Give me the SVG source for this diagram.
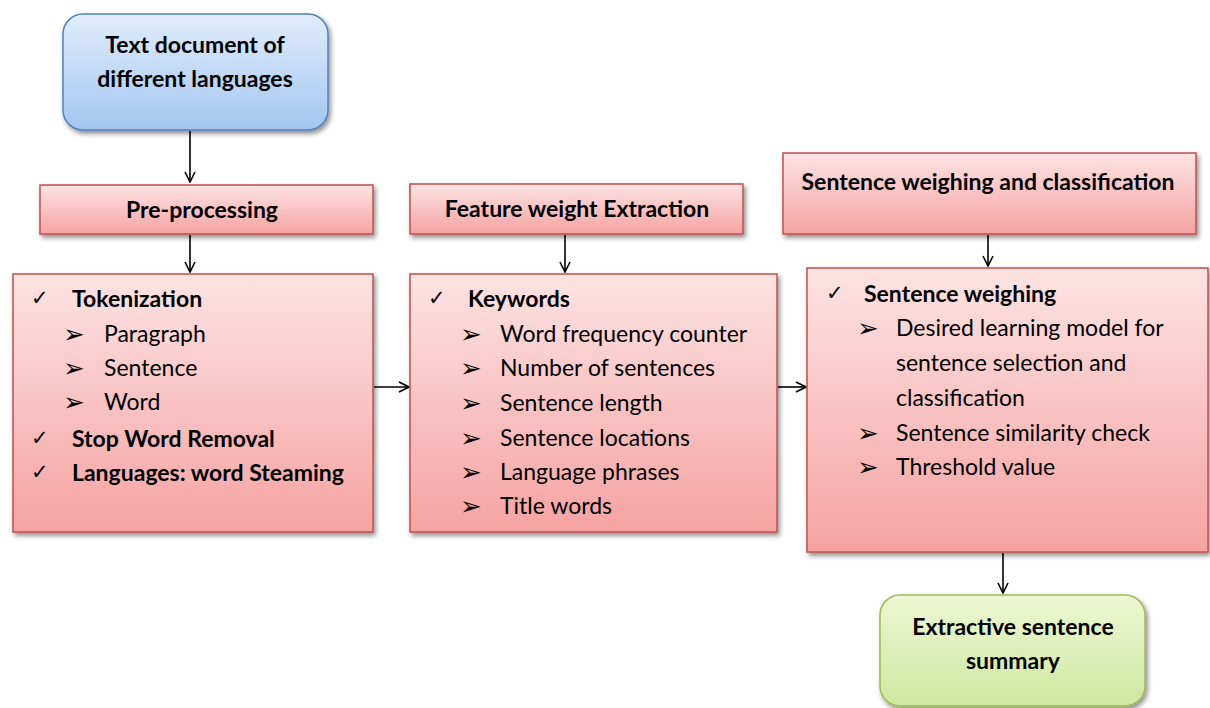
<svg xmlns="http://www.w3.org/2000/svg" width="1210" height="708" viewBox="0 0 1210 708">
  <defs>
    <linearGradient id="gPink" x1="0" y1="0" x2="0" y2="1">
      <stop offset="0" stop-color="#fde3e3"/>
      <stop offset="1" stop-color="#f5a3a2"/>
    </linearGradient>
    <linearGradient id="gBlue" x1="0" y1="0" x2="0" y2="1">
      <stop offset="0" stop-color="#e1edfc"/>
      <stop offset="1" stop-color="#a3c6f1"/>
    </linearGradient>
    <linearGradient id="gGreen" x1="0" y1="0" x2="0" y2="1">
      <stop offset="0" stop-color="#eef7d3"/>
      <stop offset="1" stop-color="#cde7a0"/>
    </linearGradient>
    <filter id="shadow" x="-10%" y="-10%" width="125%" height="130%">
      <feGaussianBlur in="SourceAlpha" stdDeviation="2.5"/>
      <feOffset dx="2" dy="3" result="b"/>
      <feComponentTransfer><feFuncA type="linear" slope="0.45"/></feComponentTransfer>
      <feMerge><feMergeNode/><feMergeNode in="SourceGraphic"/></feMerge>
    </filter>
    <marker id="arrow" viewBox="0 0 12 12" refX="11" refY="6" markerWidth="12" markerHeight="12" markerUnits="userSpaceOnUse" orient="auto">
      <path d="M1,1 L11,6 L1,11" fill="none" stroke="#000" stroke-width="1.6"/>
    </marker>
  </defs>
  <style>
    .pink { fill: url(#gPink); stroke: #c0504d; stroke-width: 1.5; filter: url(#shadow); }
    .blue { fill: url(#gBlue); stroke: #4f81bd; stroke-width: 1.5; filter: url(#shadow); }
    .green { fill: url(#gGreen); stroke: #9bbb59; stroke-width: 1.5; filter: url(#shadow); }
    text { font-family: Lato, "Liberation Sans", sans-serif; fill: #000; }
    .head { font-size: 23px; font-weight: bold; text-anchor: middle; }
    .bold { font-size: 23px; font-weight: bold; }
    .item { font-size: 23px; }
    .chk { font-family: "DejaVu Sans", sans-serif; font-size: 21px; }
    .arr { font-family: "DejaVu Sans", sans-serif; font-size: 26px; }
    .conn { stroke: #000; stroke-width: 1.6; fill: none; marker-end: url(#arrow); }
  </style>

  <!-- connectors -->
  <g id="connectors">
    <line class="conn" x1="190" y1="131" x2="190" y2="182"/>
    <line class="conn" x1="190" y1="235" x2="190" y2="272"/>
    <line class="conn" x1="565" y1="235" x2="565" y2="272"/>
    <line class="conn" x1="988" y1="235" x2="988" y2="266"/>
    <line class="conn" x1="374" y1="387" x2="409" y2="387"/>
    <line class="conn" x1="778" y1="387" x2="806" y2="387"/>
    <line class="conn" x1="1003" y1="553" x2="1003" y2="593"/>
  </g>

  <!-- source document -->
  <g id="source">
    <rect class="blue" x="63" y="14" width="265" height="116" rx="20"/>
    <text class="head" x="195" y="53">Text document of</text>
    <text class="head" x="195" y="87">different languages</text>
  </g>

  <!-- stage headers -->
  <g id="preprocessing-header">
    <rect class="pink" x="40" y="185" width="333" height="49"/>
    <text class="head" x="202" y="218">Pre-processing</text>
  </g>
  <g id="feature-header">
    <rect class="pink" x="410" y="184" width="333" height="50"/>
    <text class="head" x="577" y="217">Feature weight Extraction</text>
  </g>
  <g id="weighing-header">
    <rect class="pink" x="783" y="153" width="413" height="81"/>
    <text class="head" x="988" y="190">Sentence weighing and classification</text>
  </g>

  <!-- pre-processing details -->
  <g id="preprocessing">
    <rect class="pink" x="13" y="274" width="360" height="258"/>
    <text class="chk" x="31" y="305">✓</text>
    <text class="bold" x="72" y="307">Tokenization</text>
    <text class="arr" x="63" y="343">➢</text>
    <text class="item" x="104" y="342">Paragraph</text>
    <text class="arr" x="63" y="377">➢</text>
    <text class="item" x="104" y="376">Sentence</text>
    <text class="arr" x="63" y="411">➢</text>
    <text class="item" x="104" y="410">Word</text>
    <text class="chk" x="31" y="445">✓</text>
    <text class="bold" x="72" y="447">Stop Word Removal</text>
    <text class="chk" x="31" y="479">✓</text>
    <text class="bold" x="72" y="481">Languages: word Steaming</text>
  </g>

  <!-- feature extraction details -->
  <g id="features">
    <rect class="pink" x="410" y="274" width="367" height="258"/>
    <text class="chk" x="428" y="305">✓</text>
    <text class="bold" x="468" y="307">Keywords</text>
    <text class="arr" x="460" y="343">➢</text>
    <text class="item" x="500" y="342">Word frequency counter</text>
    <text class="arr" x="460" y="377">➢</text>
    <text class="item" x="500" y="376">Number of sentences</text>
    <text class="arr" x="460" y="412">➢</text>
    <text class="item" x="500" y="411">Sentence length</text>
    <text class="arr" x="460" y="447">➢</text>
    <text class="item" x="500" y="446">Sentence locations</text>
    <text class="arr" x="460" y="481">➢</text>
    <text class="item" x="500" y="480">Language phrases</text>
    <text class="arr" x="460" y="515">➢</text>
    <text class="item" x="500" y="514">Title words</text>
  </g>

  <!-- sentence weighing details -->
  <g id="weighing">
    <rect class="pink" x="807" y="268" width="401" height="284"/>
    <text class="chk" x="826" y="300">✓</text>
    <text class="bold" x="864" y="302">Sentence weighing</text>
    <text class="arr" x="857" y="337">➢</text>
    <text class="item" x="896" y="336">Desired learning model for</text>
    <text class="item" x="896" y="371">sentence selection and</text>
    <text class="item" x="896" y="406">classification</text>
    <text class="arr" x="857" y="442">➢</text>
    <text class="item" x="896" y="441">Sentence similarity check</text>
    <text class="arr" x="857" y="476">➢</text>
    <text class="item" x="896" y="475">Threshold value</text>
  </g>

  <!-- result -->
  <g id="summary">
    <rect class="green" x="880" y="595" width="265" height="111" rx="20"/>
    <text class="head" x="1013" y="635">Extractive sentence</text>
    <text class="head" x="1013" y="669">summary</text>
  </g>
</svg>
